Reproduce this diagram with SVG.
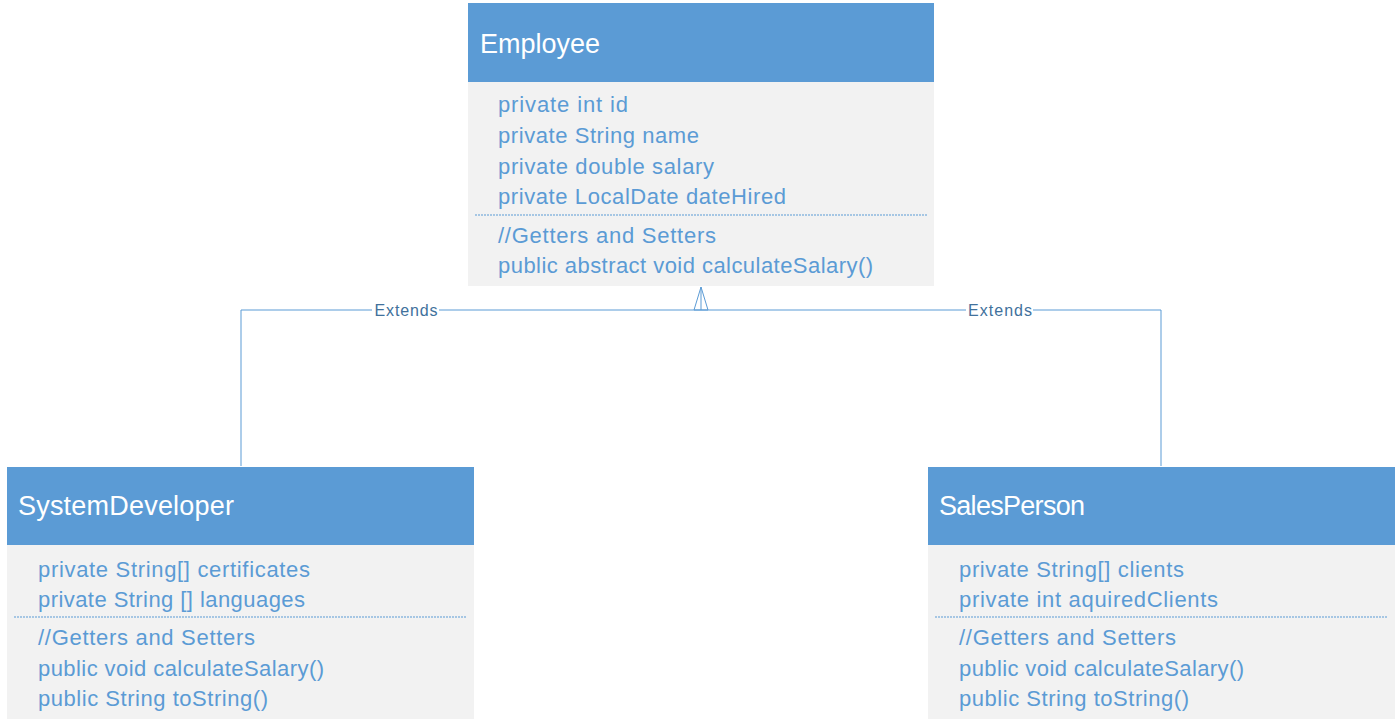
<svg xmlns="http://www.w3.org/2000/svg" width="1398" height="727" viewBox="0 0 1398 727">
<style>
.hdr{fill:#5b9bd5}
.body{fill:#f2f2f2}
.title{font-family:"Liberation Sans",Arial,sans-serif;font-size:27px;fill:#ffffff}
.mem{font-family:"Liberation Sans",Arial,sans-serif;font-size:22px;fill:#5b9bd5}
.sep{stroke:#5b9bd5;stroke-width:1;stroke-dasharray:2,1;fill:none}
.conn{stroke:#5b9bd5;stroke-width:1;fill:none}
.lbl{font-family:"Liberation Sans",Arial,sans-serif;font-size:16px;fill:#41719c}
</style>
<rect width="1398" height="727" fill="#ffffff"/>
<g id="connectors">
<path class="conn" d="M241,466 V310 H1161 V466"/>
<path class="conn" d="M701,287 L708,310 H694 Z M701,287 V310" fill="#ffffff"/>
<rect x="372" y="300" width="67" height="20" fill="#ffffff"/>
<text class="lbl" x="406" y="316" text-anchor="middle" textLength="63">Extends</text>
<rect x="966" y="300" width="67" height="20" fill="#ffffff"/>
<text class="lbl" x="1000" y="316" text-anchor="middle" textLength="64">Extends</text>
</g>
<g id="employee">
<rect class="body" x="468" y="82" width="466" height="204"/>
<rect class="hdr" x="468" y="3" width="466" height="79"/>
<text class="title" x="480" y="53" textLength="120">Employee</text>
<text class="mem" x="498" y="112" textLength="130">private int id</text>
<text class="mem" x="498" y="143" textLength="201">private String name</text>
<text class="mem" x="498" y="174" textLength="216">private double salary</text>
<text class="mem" x="498" y="204" textLength="288">private LocalDate dateHired</text>
<line class="sep" x1="475" y1="215" x2="927" y2="215"/>
<text class="mem" x="498" y="243" textLength="218">//Getters and Setters</text>
<text class="mem" x="498" y="273" textLength="375">public abstract void calculateSalary()</text>
</g>
<g id="systemdeveloper">
<rect class="body" x="7" y="545" width="467" height="174"/>
<rect class="hdr" x="7" y="467" width="467" height="78"/>
<text class="title" x="18" y="515" textLength="216">SystemDeveloper</text>
<text class="mem" x="38" y="577" textLength="272">private String[] certificates</text>
<text class="mem" x="38" y="607" textLength="267">private String [] languages</text>
<line class="sep" x1="14" y1="617" x2="467" y2="617"/>
<text class="mem" x="38" y="645" textLength="217">//Getters and Setters</text>
<text class="mem" x="38" y="676" textLength="286">public void calculateSalary()</text>
<text class="mem" x="38" y="706" textLength="230">public String toString()</text>
</g>
<g id="salesperson">
<rect class="body" x="928" y="545" width="467" height="174"/>
<rect class="hdr" x="928" y="467" width="467" height="78"/>
<text class="title" x="939" y="515" textLength="146">SalesPerson</text>
<text class="mem" x="959" y="577" textLength="225">private String[] clients</text>
<text class="mem" x="959" y="607" textLength="259">private int aquiredClients</text>
<line class="sep" x1="935" y1="617" x2="1388" y2="617"/>
<text class="mem" x="959" y="645" textLength="217">//Getters and Setters</text>
<text class="mem" x="959" y="676" textLength="285">public void calculateSalary()</text>
<text class="mem" x="959" y="706" textLength="230">public String toString()</text>
</g>
</svg>
